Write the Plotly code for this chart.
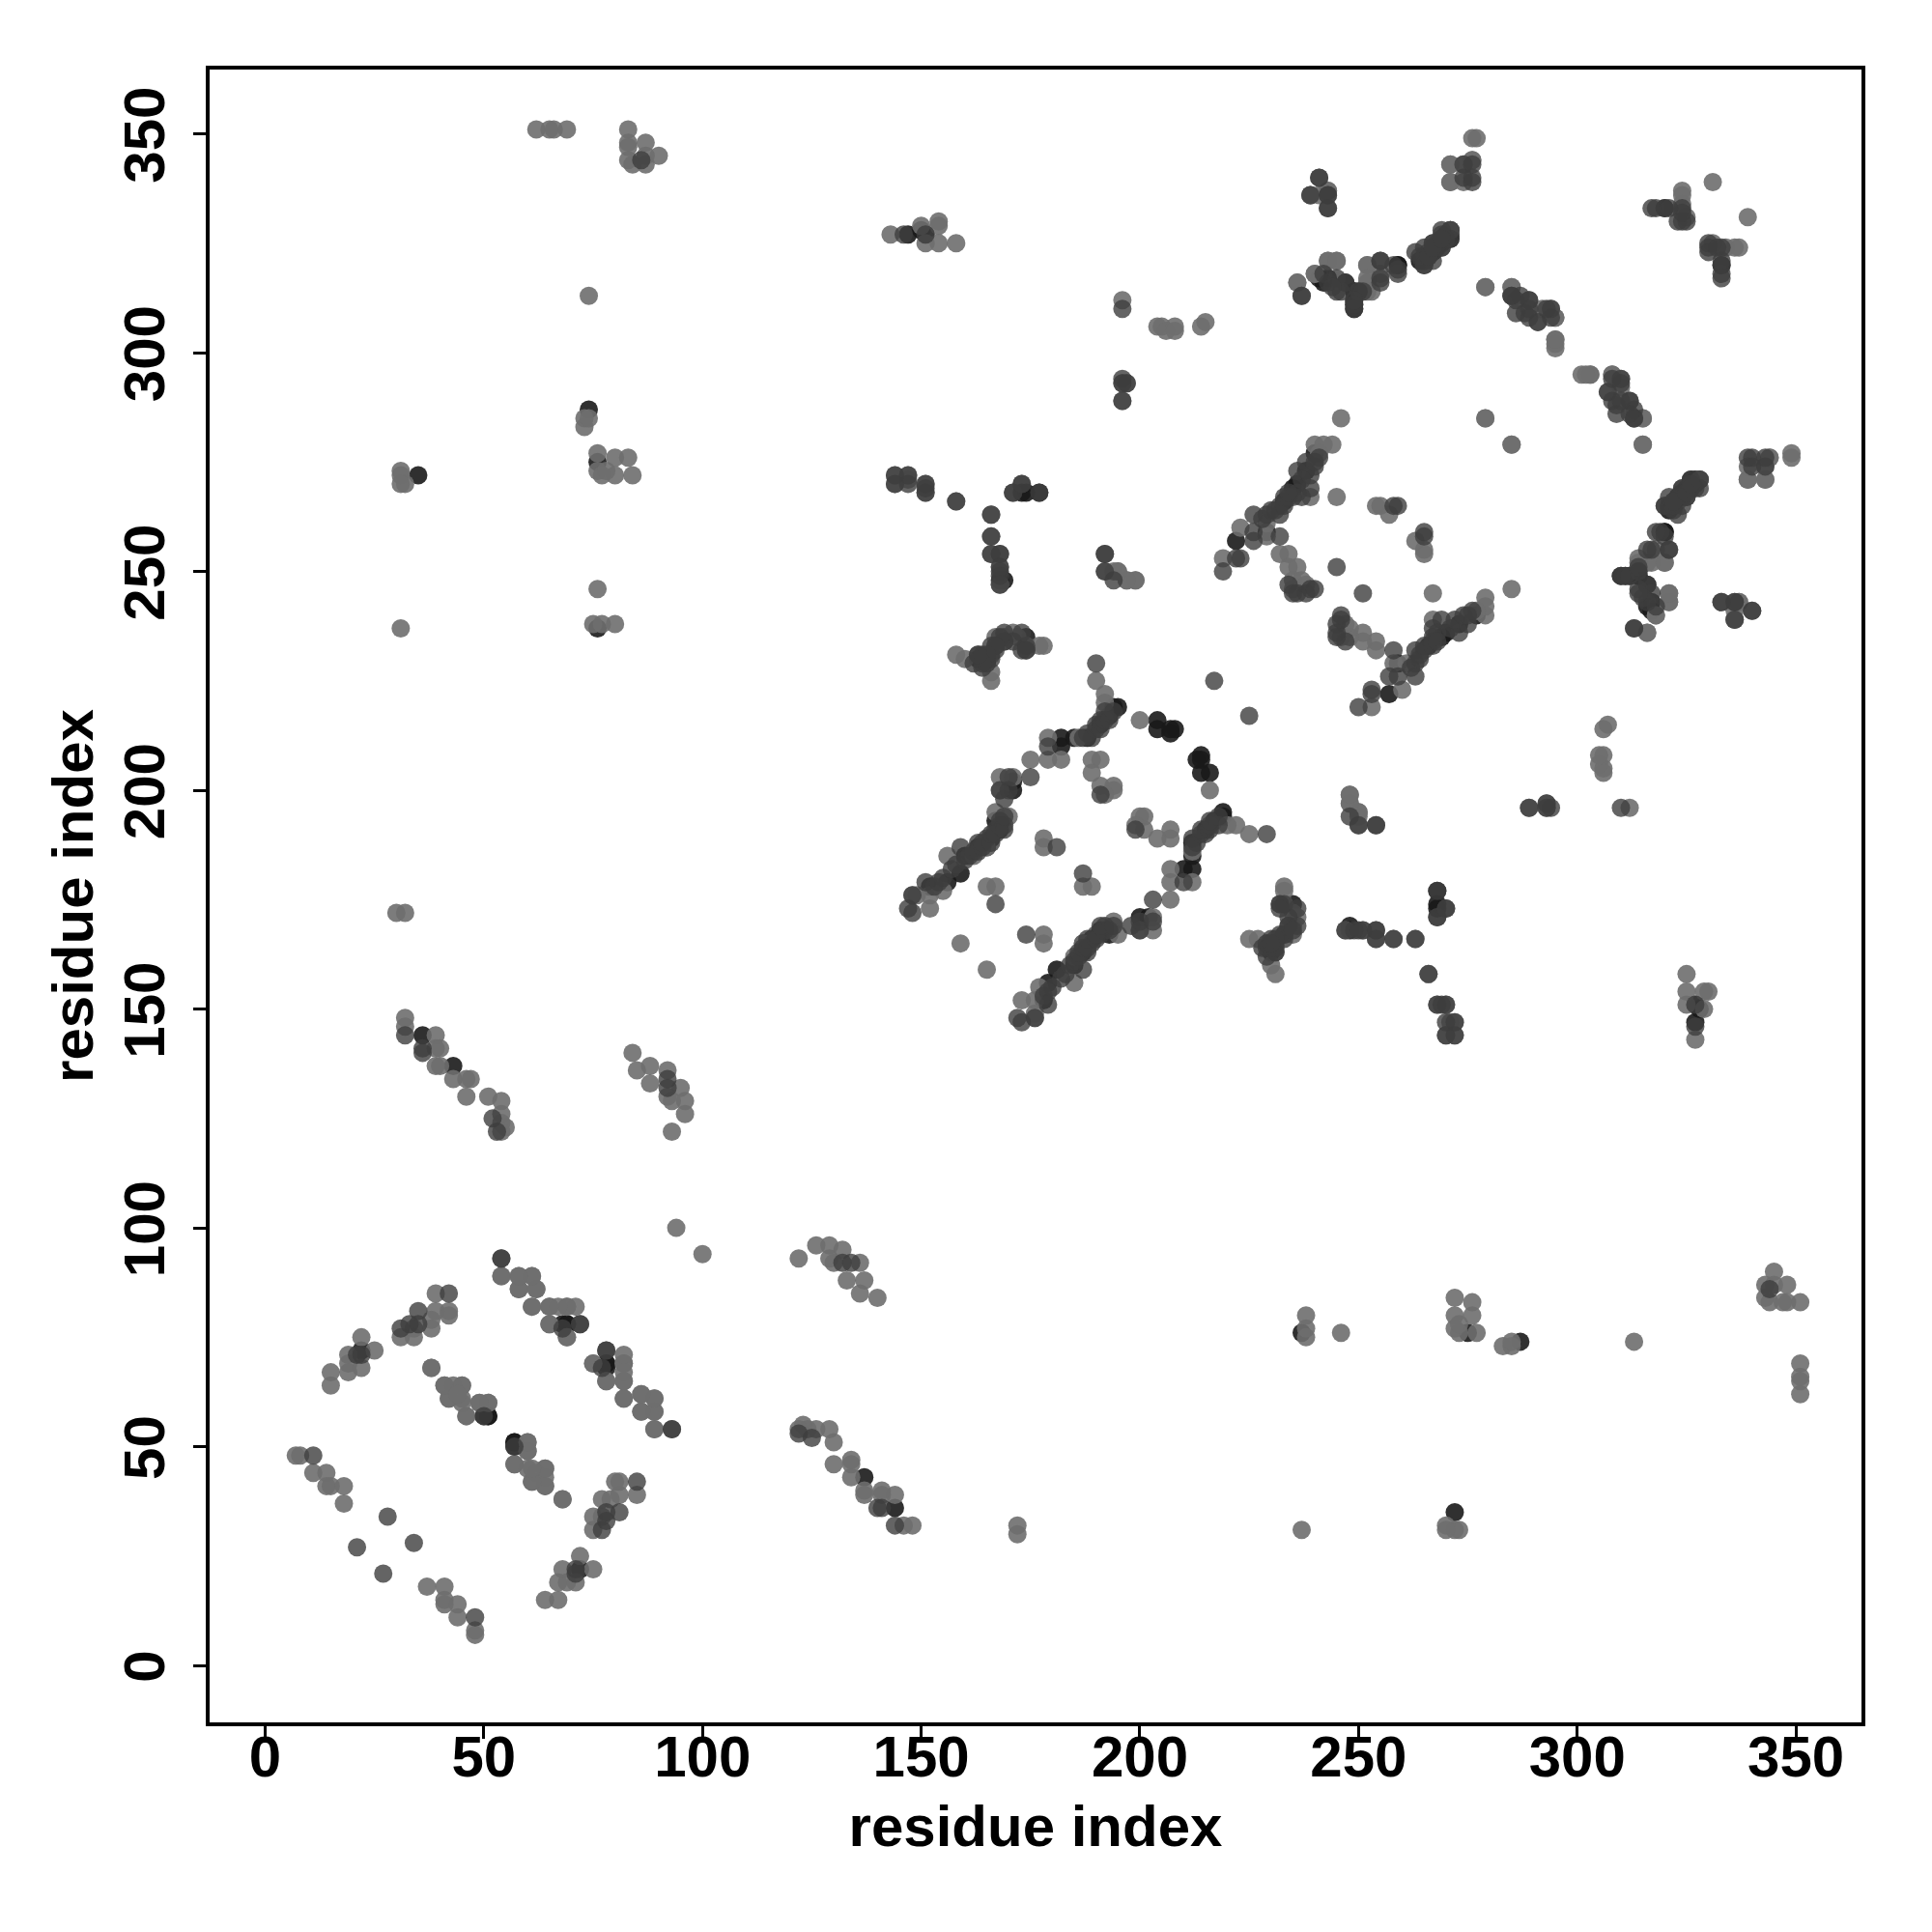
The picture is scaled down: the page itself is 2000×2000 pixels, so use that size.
import plotly.graph_objects as go

# residue contacts (i, j) with i < j; the map is symmetric
contacts_light = [
 (7,48),(8,48),(11,44),(14,44),(15,41),(14,41),(18,37),(18,41),
 (15,64),(15,67),(19,67),(19,69),(22,68),(22,75),(25,72),(19,71),
 (31,75),(34,75),(34,77),(38,77),(38,79),(39,81),(39,85),(42,81),(42,80),
 (38,68),(41,64),(43,64),(45,64),(42,61),(45,61),(46,57),(49,60),(51,60),
 (60,51),(60,49),(57,46),(60,45),(64,45),(61,42),(64,41),(62,44),(68,38),
 (54,89),(58,89),(61,89),(58,86),(62,86),(61,82),(65,82),(69,82),(71,82),(65,78),(69,75),
 (75,69),(78,65),(82,69),(82,67),(82,65),(82,61),(86,62),(86,58),(89,61),(89,58),(89,54),(94,100),
 (32,148),(32,146),(39,144),(39,141),(40,141),(39,137),(40,137),(43,134),(46,134),(47,134),(46,130),
 (51,130),(54,129),(54,126),(54,124),(55,123),(54,122),
 (84,140),(85,136),(88,137),(88,133),(92,136),(92,130),(95,132),(96,129),(96,126),(93,129),(93,122),
 (62,351),(65,351),(66,351),(69,351),(83,351),(83,348),(87,348),(83,344),(84,343),(87,345),(87,343),(90,345),(83,347),
 (31,273),(31,272),(32,270),(31,270),(73,285),(73,283),(74,285),
 (76,277),(80,276),(83,276),(76,273),(77,272),(80,272),(84,272),(78,273),
 (76,246),(75,238),(77,238),(80,238),(31,237),(74,313),(30,172),(32,172),
 (152,173),(148,176),(152,176),(149,176),(155,177),(156,185),(162,185),(165,187),(170,194),(167,195),
 (168,200),(175,207),(179,212),(179,207),(182,207),(186,212),(192,222),(192,220),(190,225),
 (189,207),(191,207),(189,204),(191,201),(194,201),(194,200),(192,199),
 (200,216),(178,189),(178,187),(165,178),(167,178),(159,165),(171,203),(168,203),
 (143,327),(150,329),(154,330),(154,329),(154,325),(158,325),(151,325),
 (196,312),(196,289),(197,293),(204,306),(205,306),(206,305),(208,306),(208,305),(214,306),(215,307),
 (144,272),(144,270),(147,271),(151,270),(158,266),(166,263),(166,258),(166,254),(168,247),
 (192,250),(194,250),(195,250),(197,248),(199,248),
 (158,231),(160,230),(166,225),(171,236),(167,235),(169,235),(174,233),(178,233),
 (177,233),(172,235),(166,227),
 (168,251),(151,268),(147,272),(196,293),
 (248,199),(248,197),(250,195),
 (219,253),(223,260),(229,258),(229,261),(240,279),(244,279),(242,279),(241,277),(239,267),(246,285),
 (245,267),(232,254),(234,254),(234,251),(236,251),(235,248),(237,248),(238,247),(235,246),
 (254,265),(255,265),(257,263),(279,285),(285,313),(279,315),(285,315),
 (271,343),(271,339),(274,343),(276,344),(274,339),(239,336),(243,337),(241,336),
 (236,316),(240,318),(243,321),(245,321),(252,320),(252,316),(253,314),(255,318),
 (295,303),(295,302),(301,295),(303,295),(308,295),(307,291),(315,285),(295,308),(292,310),(294,310),
 (315,279),(331,339),(285,279),
 (324,336),(324,334),(324,337),(325,331),
 (339,271),(343,271),(344,276),(349,277),(349,276),(328,271),(320,252),(317,252),(314,252),(316,236),(318,240),(321,243),
 (336,239),(337,243),(321,245),
]
contacts_mid = [
 (11,48),(21,27),(28,34),(22,71),(21,71),(31,77),(35,81),(42,85),(33,78),(35,78),(50,57),
 (54,93),(72,78),(78,72),(77,68),(93,54),(32,144),(36,141),(36,140),(52,125),(53,122),
 (92,132),(92,134),(86,344),(148,172),(147,173),(148,176),(151,179),(155,180),(159,187),
 (163,188),(165,189),(167,191),(168,192),(169,192),(168,193),(169,198),(170,200),(168,200),(170,203),
 (153,178),(154,179),(157,182),(158,183),(160,184),(161,185),(162,186),(163,186),(164,187),(164,188),(166,188),(166,190),(167,190),(169,191),(169,194),
 (175,203),(179,210),(187,212),(188,213),(190,214),(190,215),(191,216),(192,218),(190,229),(189,212),(191,214),(192,216),(193,216),(194,218),
 (181,187),(167,174),(217,225),(191,199),(146,327),(151,327),(196,310),(196,294),
 (151,269),(171,268),(173,270),(177,268),(168,254),(168,250),(168,249),
 (192,254),(194,248),(163,231),(162,229),(164,228),(165,229),(166,230),(166,233),(171,234),(174,233),(167,232),(164,231),
 (174,232),(169,234),(167,233),(173,236),(169,236),(168,235),(166,231),(165,230),(173,232),
 (232,174),(234,169),(233,167),(231,165),(229,164),(231,163),(254,168),(254,166),(251,168),(247,168),
 (258,166),(263,166),(266,158),(268,171),(270,173),(268,151),(270,151),(270,147),(272,147),(270,144),(272,144),
 (289,196),(293,196),(293,197),(250,192),(254,192),
 (219,250),(222,253),(223,253),(226,257),(226,259),(226,263),(229,263),(231,264),(232,263),(232,265),(233,267),(234,267),
 (237,267),(239,269),(236,273),(238,275),(240,274),(241,276),(245,251),(232,258),(235,267),(236,268),(237,271),(239,272),(240,275),(228,262),(230,264),(233,265),(234,268),
 (234,247),(236,245),(238,245),(239,246),(235,245),(240,246),
 (259,265),(258,265),(239,336),(243,333),(241,340),(243,336),(276,343),(276,339),
 (237,313),(242,318),(243,316),(245,314),(250,314),(251,314),(255,316),(255,321),(259,318),
 (263,323),(265,324),(265,320),(267,321),(267,325),(269,324),(269,326),(265,322),(267,323),(269,328),(271,328),(266,322),(268,325),(270,326),
 (285,313),(286,312),(289,312),(288,309),(291,307),(289,310),(308,294),(310,294),(310,293),(308,289),(312,289),(309,286),(313,287),(313,285),
 (318,333),(320,333),(324,333),(325,330),(324,330),(323,330),(324,332),(321,333),(317,333),
 (340,276),(340,274),(343,274),(326,271),(327,269),(324,269),(325,267),(323,266),(321,265),(320,265),(322,264),(322,266),(324,267),(326,269),
 (319,259),(320,258),(321,255),(317,255),(314,250),(310,249),(311,249),(312,249),(316,247),(314,246),(317,245),(315,244),
 (333,243),(336,243),(340,241),(313,237),
]
contacts_dark = [
 (51,57),(57,51),(57,50),(69,78),(68,78),(78,69),(22,72),(36,144),(43,137),(35,272),(74,287),
 (76,275),(76,237),(159,181),(182,212),(182,210),(195,219),(194,219),
 (204,216),(204,214),(207,214),(208,214),(207,213),(147,327),(151,327),
 (174,268),(173,268),(169,248),(174,235),(168,248),(177,268),
 (222,257),(235,269),(238,273),(229,259),(171,200),(171,202),(165,187),(167,193),(156,179),(152,178),
 (249,314),(249,311),(247,316),(242,316),(259,320),(271,327),(271,326),(264,321),
 (328,271),(320,259),(314,249),(317,243),(317,241),(185,212),(188,212),(191,215),(193,217),
 (229,165),(230,163),(249,310),(249,312),(150,328),(333,320),
 (160,185),(163,187),(166,189),(168,191),(233,266),(236,270),(240,277),(265,321),(268,324),(270,327),(323,267),(325,269),
]
x_ticks = [0, 50, 100, 150, 200, 250, 300, 350]
axis_label = "residue index"
tiers = [(contacts_dark, "rgba(25,25,25,0.9)"), (contacts_light, "rgba(110,110,110,0.9)"), (contacts_mid, "rgba(61,61,61,0.8)")]

fig = go.Figure()
for pairs, colour in tiers:
    i = [p[0] for p in pairs]
    j = [p[1] for p in pairs]
    fig.add_trace(go.Scatter(x=i + j, y=j + i, mode="markers", showlegend=False,
                             marker=dict(size=19, color=colour, line=dict(width=0))))

font = dict(family="Liberation Sans", size=60, color="black", weight="bold")
axis = dict(tickvals=x_ticks, showgrid=False, zeroline=False, showline=True, mirror=True,
            linecolor="black", linewidth=3.5, ticks="outside", ticklen=13, tickwidth=3, tickcolor="black",
            tickfont=font, title=dict(text=axis_label, font=font))
fig.update_layout(width=1992, height=1992, autosize=False, paper_bgcolor="white", plot_bgcolor="white",
                  margin=dict(l=209, r=73, t=64, b=217),
                  xaxis=dict(axis, range=[-12.7, 365], ticklabelstandoff=-33),
                  yaxis=dict(axis, range=[-13, 364.7], tickangle=-90, ticklabelstandoff=6, ticklabelshift=10))
fig.update_xaxes(title_standoff=19)
fig.update_yaxes(title_standoff=1)
fig.write_html("out.html")
